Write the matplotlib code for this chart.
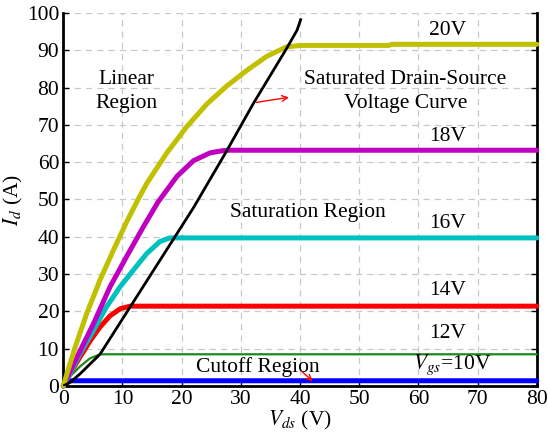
import matplotlib
matplotlib.use("Agg")
import matplotlib.pyplot as plt

plt.rcParams['font.family'] = ['Liberation Serif', 'DejaVu Serif']
plt.rcParams['mathtext.fontset'] = 'stix'

# Vgs = 20V
x20 = [0, 0.6, 2.0, 4.0, 6.2, 8.5, 10.7, 12.7, 14.1, 17.5, 20.8, 24.2, 27.6, 31.0, 34.4, 37.7, 40, 55, 55.5, 80]
y20 = [0, 3.2, 10.4, 19.6, 28.4, 36.5, 44.0, 50.2, 54.3, 62.5, 69.4, 75.5, 80.4, 84.6, 88.4, 90.9, 91.3, 91.3, 91.6, 91.6]
# Vgs = 18V
x18 = [0, 2.3, 5.1, 7.9, 10.7, 13.5, 16.0, 19.2, 22.0, 24.8, 27.0, 28, 80]
y18 = [0, 7.7, 16.7, 26.6, 34.7, 42.6, 49.3, 56.2, 60.4, 62.5, 63.1, 63.2, 63.2]
# Vgs = 16V
x16 = [0, 1.1, 2.8, 5.1, 7.3, 9.6, 11.8, 14.1, 16.3, 18, 80]
y16 = [0, 3.2, 8.6, 14.9, 21.2, 26.6, 31.0, 35.5, 38.7, 39.7, 39.7]
# Vgs = 14V
x14 = [0, 1.1, 2.8, 4.5, 6.2, 7.9, 9.6, 11.3, 80]
y14 = [0, 3.2, 7.7, 12.0, 15.8, 18.8, 20.7, 21.4, 21.4]
# Vgs = 12V
x12 = [0, 1.1, 2.8, 4.5, 6.2, 80]
y12 = [0, 2.5, 5.2, 7.4, 8.5, 8.5]
# Vgs = 10V
x10 = [0, 0.5, 80]
y10 = [0, 1.4, 1.4]
# saturated drain-source voltage curve
xs = [0, 1.1, 2.8, 6.2, 22.0, 27.6, 32.1, 37.7, 39.5, 40.1]
ys = [0, 0.9, 3.2, 8.5, 47.8, 63.0, 75.7, 90.4, 95.4, 98.2]

xticks = [0, 10, 20, 30, 40, 50, 60, 70, 80]
yticks = [0, 10, 20, 30, 40, 50, 60, 70, 80, 90, 100]

fig = plt.figure(figsize=(5.48, 4.43), dpi=100)
ax = fig.add_axes([0.1155, 0.1287, 0.864, 0.842])

ax.grid(True, color='#c8c8c8', linestyle=(0, (5, 4)), linewidth=0.9)
ax.set_axisbelow(True)

kw = dict(solid_capstyle='round', solid_joinstyle='round', clip_on=False, zorder=3)
ax.plot(x10, y10, color='#0000ff', lw=3.6, **kw)
ax.plot(x12, y12, color='#1a8a1a', lw=1.6, **kw)
ax.plot(x14, y14, color='#ff0000', lw=3.6, **kw)
ax.plot(x16, y16, color='#00c0c0', lw=3.6, **kw)
ax.plot(x18, y18, color='#c000c0', lw=3.6, **kw)
ax.plot(x20, y20, color='#c0c000', lw=3.6, **kw)
ax.plot(xs, ys, color='black', lw=2.0, solid_joinstyle='round', zorder=4)

ax.set_xlim(0, 80)
ax.set_ylim(0, 100)
ax.set_xticks(xticks)
ax.set_yticks(yticks)
fs = 15.5
ax.tick_params(axis='both', labelsize=fs, direction='in', length=4, width=1,
               right=True, top=False, pad=3)
for s in ['left', 'bottom', 'right']:
    ax.spines[s].set_linewidth(2)
ax.spines['top'].set_visible(False)

ax.set_xlabel('$V_{ds}$ (V)', fontsize=fs, labelpad=0)
ax.set_ylabel('$I_d$ (A)', fontsize=fs, labelpad=1)

ax.text(10.7, 79, 'Linear\nRegion', fontsize=fs, ha='center', va='center', linespacing=1.35)
ax.text(57.8, 79, 'Saturated Drain-Source\nVoltage Curve', fontsize=fs, ha='center', va='center', linespacing=1.35)
ax.text(65, 95.4, '20V', fontsize=fs, ha='center', va='center')
ax.text(65, 66.8, '18V', fontsize=fs, ha='center', va='center')
ax.text(41.4, 46.6, 'Saturation Region', fontsize=fs, ha='center', va='center')
ax.text(64.9, 43.6, '16V', fontsize=fs, ha='center', va='center')
ax.text(64.9, 25.7, '14V', fontsize=fs, ha='center', va='center')
ax.text(64.9, 14.1, '12V', fontsize=fs, ha='center', va='center')
ax.text(32.9, 5.2, 'Cutoff Region', fontsize=fs, ha='center', va='center')
ax.text(65.7, 5.6, '$V_{gs}$=10V', fontsize=fs, ha='center', va='center')

ax.annotate('', xy=(38.6, 77.5), xytext=(32.1, 75.9),
            arrowprops=dict(arrowstyle='->', color='red', lw=1.0), zorder=5)
ax.annotate('', xy=(42.5, 0.8), xytext=(40, 4.3),
            arrowprops=dict(arrowstyle='->', color='red', lw=1.0), zorder=5)

fig.savefig('out.png', dpi=100)
